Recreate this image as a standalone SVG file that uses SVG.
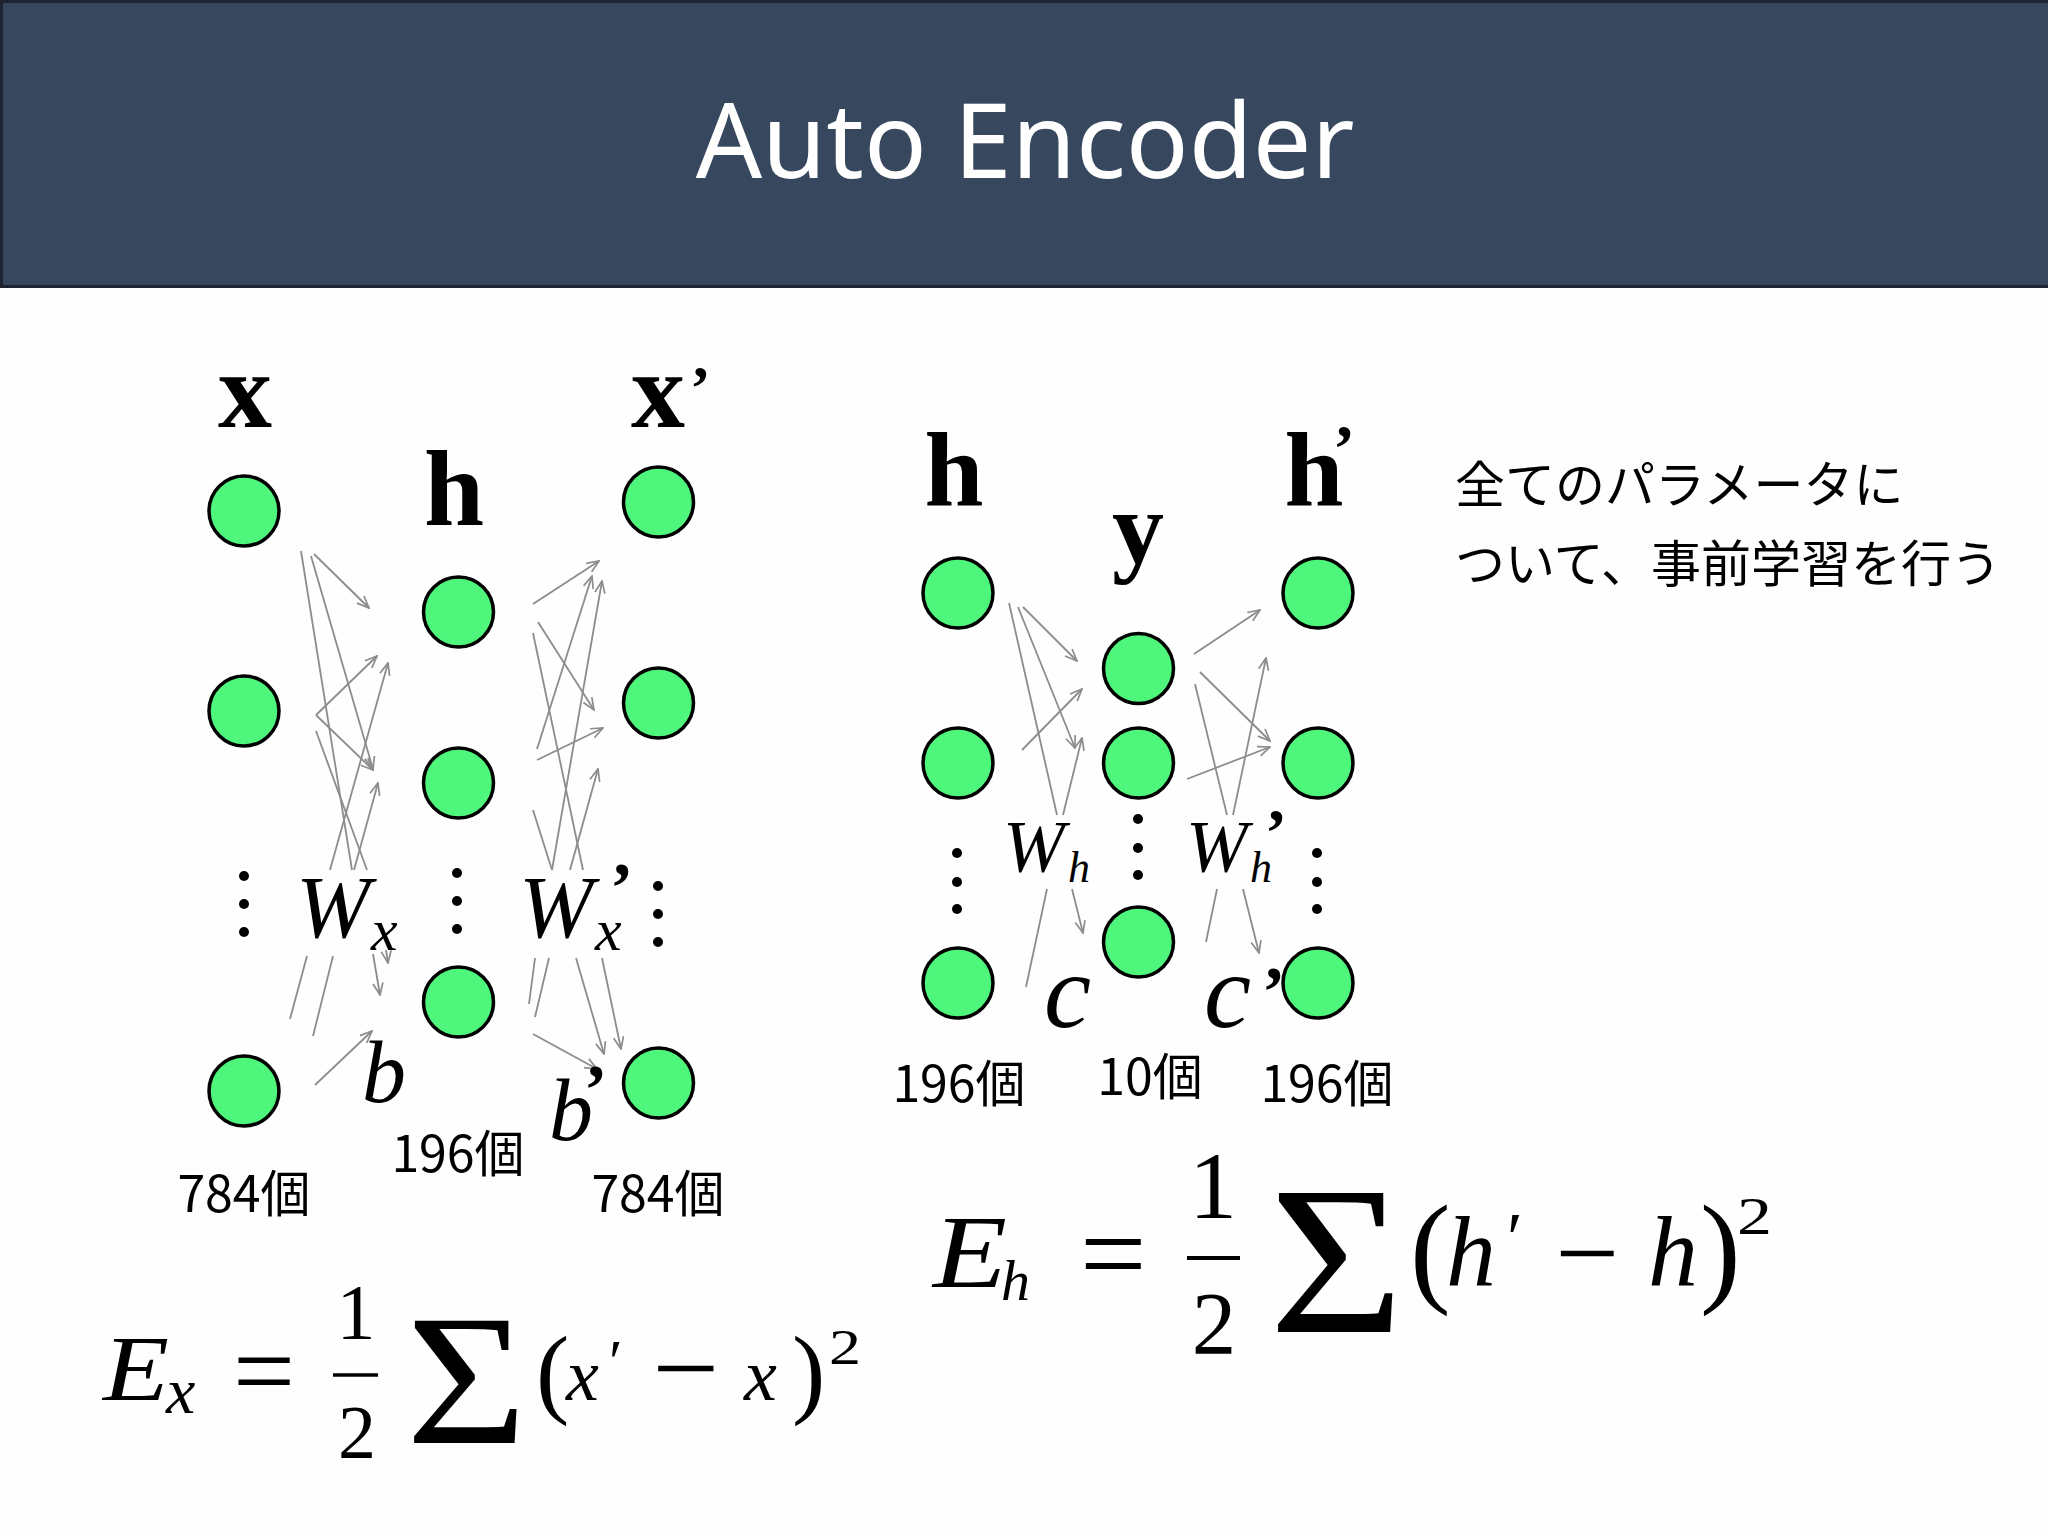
<svg xmlns="http://www.w3.org/2000/svg" width="2048" height="1536" viewBox="0 0 2048 1536">
<defs>
<marker id="ah" viewBox="0 0 14 12" refX="13" refY="6" markerWidth="14" markerHeight="12" markerUnits="userSpaceOnUse" orient="auto">
<path d="M1,1 L13,6 L1,11" fill="none" stroke="#8c8c8c" stroke-width="1.7"/>
</marker>
</defs>
<style>
.node{fill:#4ef77b;stroke:#000;stroke-width:3.5}
.dot{fill:#000}
.c{fill:none;stroke:#8c8c8c;stroke-width:1.8}
.a{marker-end:url(#ah)}
.lbl{font-family:"Liberation Serif",serif;font-weight:bold;fill:#000;text-anchor:middle}
.pr{font-family:"Liberation Serif",serif;font-weight:bold;fill:#000}
.mi{font-family:"Liberation Serif",serif;font-style:italic;fill:#000}
.mr{font-family:"Liberation Serif",serif;fill:#000}
.jp{font-family:"Noto Sans CJK JP",sans-serif;fill:#000}
.cnt{font-family:"Noto Sans CJK JP",sans-serif;fill:#000;font-size:50px;text-anchor:middle}
</style>
<rect x="0" y="0" width="2048" height="1536" fill="#fefefe"/>
<g id="header">
<rect x="1.5" y="1.5" width="2048" height="285" fill="#37475d" stroke="#1c2430" stroke-width="3"/>
<text x="1025" y="178" font-family="Noto Sans, sans-serif" font-size="104" fill="#ffffff" text-anchor="middle">Auto Encoder</text>
</g>

<g id="connectors">
<!-- left encoder -->
<path class="c a" d="M314,554 L369,608"/>
<path class="c" d="M301,551 L352,870"/>
<path class="c a" d="M311,556 L373,769"/>
<path class="c a" d="M316,715 L377,656"/>
<path class="c a" d="M316,715 L373,770"/>
<path class="c" d="M316,731 L367,870"/>
<path class="c a" d="M330,870 L388,663"/>
<path class="c a" d="M354,870 L378,783"/>
<path class="c" d="M307,956 L290,1019"/>
<path class="c" d="M333,956 L313,1036"/>
<path class="c a" d="M373,954 L380,995"/>
<path class="c a" d="M386,950 L388,963"/>
<path class="c a" d="M315,1085 L372,1031"/>
<!-- left decoder -->
<path class="c a" d="M533,604 L599,561"/>
<path class="c a" d="M538,622 L594,710"/>
<path class="c" d="M533,633 L583,870"/>
<path class="c a" d="M537,749 L592,576"/>
<path class="c a" d="M552,870 L602,581"/>
<path class="c a" d="M537,760 L603,728"/>
<path class="c" d="M533,810 L552,870"/>
<path class="c a" d="M570,870 L598,769"/>
<path class="c" d="M535,958 L529,1004"/>
<path class="c" d="M549,958 L535,1017"/>
<path class="c a" d="M576,958 L604,1054"/>
<path class="c a" d="M602,958 L621,1049"/>
<path class="c a" d="M533,1034 L597,1069"/>
<!-- right encoder -->
<path class="c" d="M1009,603 L1057,815"/>
<path class="c a" d="M1018,607 L1075,748"/>
<path class="c a" d="M1023,607 L1077,661"/>
<path class="c a" d="M1022,750 L1082,689"/>
<path class="c a" d="M1063,815 L1082,738"/>
<path class="c" d="M1047,889 L1026,987"/>
<path class="c a" d="M1072,889 L1083,933"/>
<!-- right decoder -->
<path class="c a" d="M1194,654 L1260,610"/>
<path class="c a" d="M1200,672 L1270,741"/>
<path class="c" d="M1195,684 L1227,815"/>
<path class="c a" d="M1233,815 L1266,658"/>
<path class="c a" d="M1187,779 L1270,747"/>
<path class="c" d="M1217,889 L1206,942"/>
<path class="c a" d="M1243,889 L1259,953"/>
</g>

<!-- left network -->
<g id="layer-x">
<text class="lbl" x="245" y="427" font-size="108">x</text>
<circle class="node" cx="244" cy="511" r="35"/>
<circle class="node" cx="244" cy="711" r="35"/>
<circle class="dot" cx="244" cy="876" r="5"/>
<circle class="dot" cx="244" cy="904" r="5"/>
<circle class="dot" cx="244" cy="932" r="5"/>
<circle class="node" cx="244" cy="1091" r="35"/>
<text class="cnt" x="244" y="1212">784個</text>
</g>
<g id="layer-h1">
<text class="lbl" x="454" y="525" font-size="108">h</text>
<circle class="node" cx="458.5" cy="612" r="35"/>
<circle class="node" cx="458.5" cy="783" r="35"/>
<circle class="dot" cx="457" cy="873" r="5"/>
<circle class="dot" cx="457" cy="901" r="5"/>
<circle class="dot" cx="457" cy="929" r="5"/>
<circle class="node" cx="458.5" cy="1002" r="35"/>
<text class="cnt" x="458" y="1172">196個</text>
</g>
<g id="layer-xp">
<text class="lbl" x="658" y="427" font-size="108">x</text>
<text class="pr" x="690" y="408" font-size="62">’</text>
<circle class="node" cx="658.5" cy="502" r="35"/>
<circle class="node" cx="658.5" cy="703" r="35"/>
<circle class="dot" cx="658" cy="886" r="5"/>
<circle class="dot" cx="658" cy="914" r="5"/>
<circle class="dot" cx="658" cy="942" r="5"/>
<circle class="node" cx="658.5" cy="1083" r="35"/>
<text class="cnt" x="658" y="1212">784個</text>
</g>
<g id="label-Wx">
<text class="mi" x="296" y="937" font-size="89">W</text>
<text class="mi" x="371" y="950" font-size="60">x</text>
</g>
<g id="label-Wxp">
<text class="mi" x="519" y="937" font-size="89">W</text>
<text class="mi" x="595" y="950" font-size="60">x</text>
<text class="pr" x="610" y="911" font-size="70">’</text>
</g>
<g id="label-b">
<text class="mi" x="362" y="1102" font-size="88">b</text>
</g>
<g id="label-bp">
<text class="mi" x="549" y="1140" font-size="88">b</text>
<text class="pr" x="584" y="1113" font-size="70">’</text>
</g>

<!-- right network -->
<g id="layer-h2">
<text class="lbl" x="954" y="506" font-size="106">h</text>
<circle class="node" cx="958" cy="593" r="35"/>
<circle class="node" cx="958" cy="763" r="35"/>
<circle class="dot" cx="957" cy="853" r="5"/>
<circle class="dot" cx="957" cy="882" r="5"/>
<circle class="dot" cx="957" cy="909" r="5"/>
<circle class="node" cx="958" cy="983" r="35"/>
<text class="cnt" x="959" y="1102">196個</text>
</g>
<g id="layer-y">
<text class="lbl" x="1138" y="563" font-size="104">y</text>
<circle class="node" cx="1138.5" cy="668.5" r="35"/>
<circle class="node" cx="1138.5" cy="763" r="35"/>
<circle class="dot" cx="1138" cy="819" r="5"/>
<circle class="dot" cx="1138" cy="848" r="5"/>
<circle class="dot" cx="1138" cy="875" r="5"/>
<circle class="node" cx="1138.5" cy="942" r="35"/>
<text class="cnt" x="1150" y="1095">10個</text>
</g>
<g id="layer-hp">
<text class="lbl" x="1314" y="506" font-size="106">h</text>
<text class="pr" x="1333" y="470" font-size="66">’</text>
<circle class="node" cx="1318" cy="593" r="35"/>
<circle class="node" cx="1318" cy="763" r="35"/>
<circle class="dot" cx="1317" cy="853" r="5"/>
<circle class="dot" cx="1317" cy="882" r="5"/>
<circle class="dot" cx="1317" cy="909" r="5"/>
<circle class="node" cx="1318" cy="983" r="35"/>
<text class="cnt" x="1327" y="1102">196個</text>
</g>
<g id="label-Wh">
<text class="mi" x="1003" y="872" font-size="74">W</text>
<text class="mi" x="1068" y="882" font-size="44">h</text>
</g>
<g id="label-Whp">
<text class="mi" x="1186" y="872" font-size="74">W</text>
<text class="mi" x="1250" y="882" font-size="44">h</text>
<text class="pr" x="1265" y="854" font-size="66">’</text>
</g>
<g id="label-c">
<text class="mi" x="1044" y="1027" font-size="106">c</text>
</g>
<g id="label-cp">
<text class="mi" x="1204" y="1027" font-size="106">c</text>
<text class="pr" x="1262" y="1015" font-size="70">’</text>
</g>

<g id="note">
<text class="jp" x="1455" y="503" font-size="50">全てのパラメータに</text>
<text class="jp" x="1455" y="582" font-size="50">ついて、事前学習を行う</text>
</g>

<g id="formula-Ex">
<text class="mi" x="103" y="1400" font-size="93" textLength="66" lengthAdjust="spacingAndGlyphs">E</text>
<text class="mi" x="166" y="1413" font-size="66">x</text>
<text class="mr" x="233" y="1408" font-size="110">=</text>
<text class="mr" x="356" y="1338" font-size="78" text-anchor="middle">1</text>
<line x1="333" y1="1375" x2="378" y2="1375" stroke="#000" stroke-width="3.5"/>
<text class="mr" x="357" y="1458" font-size="76" text-anchor="middle">2</text>
<text class="mr" x="406" y="1443" font-size="186" textLength="121" lengthAdjust="spacingAndGlyphs">Σ</text>
<text class="mr" x="536" y="1405" font-size="100">(</text>
<text class="mi" x="566" y="1400" font-size="74">x</text>
<text class="mr" x="609" y="1382" font-size="62" font-family="DejaVu Serif, serif">′</text>
<text class="mr" x="652" y="1405" font-size="110" textLength="67" lengthAdjust="spacingAndGlyphs">−</text>
<text class="mi" x="744" y="1400" font-size="74">x</text>
<text class="mr" x="792" y="1405" font-size="100">)</text>
<text class="mr" x="829" y="1364" font-size="50" textLength="32" lengthAdjust="spacingAndGlyphs">2</text>
</g>

<g id="formula-Eh">
<text class="mi" x="933" y="1287" font-size="104" textLength="74" lengthAdjust="spacingAndGlyphs">E</text>
<text class="mi" x="1001" y="1300" font-size="58">h</text>
<text class="mr" x="1080" y="1294" font-size="118">=</text>
<text class="mr" x="1213" y="1218" font-size="96" text-anchor="middle">1</text>
<line x1="1187" y1="1258" x2="1240" y2="1258" stroke="#000" stroke-width="4"/>
<text class="mr" x="1214" y="1353" font-size="89" text-anchor="middle">2</text>
<text class="mr" x="1269" y="1332" font-size="212" textLength="135" lengthAdjust="spacingAndGlyphs">Σ</text>
<text class="mr" x="1410" y="1290" font-size="122">(</text>
<text class="mi" x="1446" y="1285" font-size="100">h</text>
<text class="mr" x="1507" y="1262" font-size="72" font-family="DejaVu Serif, serif">′</text>
<text class="mr" x="1555" y="1290" font-size="110" textLength="64" lengthAdjust="spacingAndGlyphs">−</text>
<text class="mi" x="1648" y="1285" font-size="100">h</text>
<text class="mr" x="1700" y="1290" font-size="122">)</text>
<text class="mr" x="1737" y="1234" font-size="52" textLength="35" lengthAdjust="spacingAndGlyphs">2</text>
</g>
</svg>
